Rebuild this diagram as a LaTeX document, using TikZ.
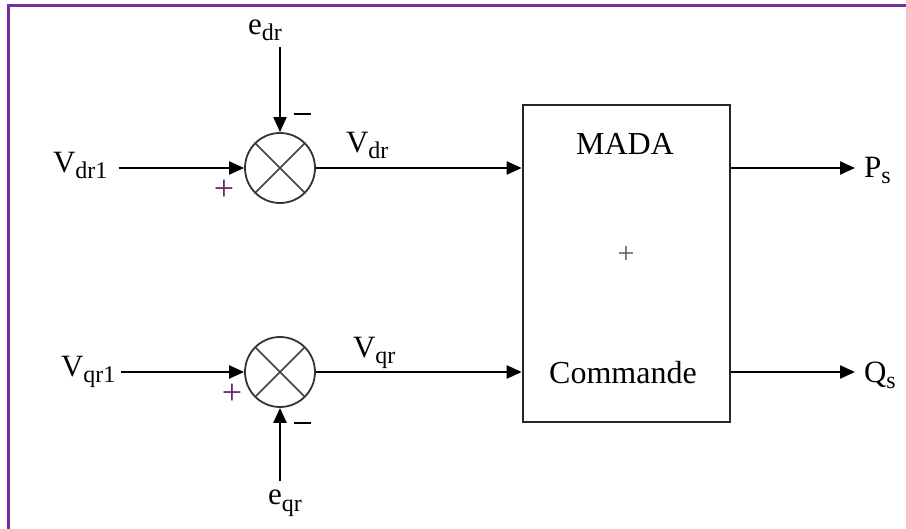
\documentclass[tikz,border=0pt]{standalone}
\usepackage{fontspec}
\setmainfont{Liberation Serif}
\usetikzlibrary{arrows.meta}
\definecolor{framec}{HTML}{7030A0}
\definecolor{plusc}{HTML}{6A2A66}
\newcommand{\sbs}[1]{\raisebox{-6pt}{\fontsize{24}{24}\selectfont #1}}
\begin{document}
\begin{tikzpicture}[x=1pt,y=-1pt,
  font=\fontsize{31}{36}\selectfont,
  line width=2.2pt,
  arr/.style={-{Triangle[length=15pt,width=13pt]}},
  lbl/.style={inner sep=0pt, anchor=base west},
  sumj/.style={circle, draw=black!80, minimum size=70pt, inner sep=0pt, line width=1.8pt},
  sgn/.style={inner sep=0pt},
  blockbox/.style={draw=black!85, minimum width=207pt, minimum height=317pt, inner sep=0pt, line width=2.6pt}]
\useasboundingbox (0,0) rectangle (906,529);
\fill[white] (0,0) rectangle (906,529);
\draw[framec, line width=3pt] (8,529) -- (8,6) -- (906,6);

% summing junctions
\node[sumj] (s1) at (280,168) {};
\node[sumj] (s2) at (280,372) {};
\draw[black!75, line width=1.5pt] (s1.north west) -- (s1.south east) (s1.north east) -- (s1.south west);
\draw[black!75, line width=1.5pt] (s2.north west) -- (s2.south east) (s2.north east) -- (s2.south west);

% block
\node[blockbox] (box) at (626.5,263.5) {};
\node[inner sep=0pt, anchor=base, font=\fontsize{32}{36}\selectfont] (mada) at (625,155) {MADA};
\node[inner sep=0pt, font=\fontsize{30}{30}\selectfont, text=black!65] (plusbox) at (626,255) {+};
\node[inner sep=0pt, anchor=base, font=\fontsize{32}{36}\selectfont] (cmd) at (623,384) {Commande};

% labels
\node[lbl] (vdr1) at (52,173) {V\sbs{dr1}};
\node[lbl] (vqr1) at (60,377) {V\sbs{qr1}};
\node[lbl] (edr) at (247,35) {e\sbs{dr}};
\node[lbl] (eqr) at (267,505) {e\sbs{qr}};
\node[lbl] (vdr) at (345,153) {V\sbs{dr}};
\node[lbl] (vqr) at (352,358) {V\sbs{qr}};
\node[lbl] (ps) at (863,178) {P\sbs{s}};
\node[lbl] (qs) at (863,383) {Q\sbs{s}};

% signs
\node[sgn] (m1) at (302,114) {\rule{17pt}{2.2pt}};
\node[sgn] (m2) at (302,423) {\rule{17pt}{2.2pt}};
\node[sgn, text=plusc, font=\fontsize{36}{36}\selectfont] (p1) at (224,190) {+};
\node[sgn, text=plusc, font=\fontsize{36}{36}\selectfont] (p2) at (232,394) {+};

% connectors
\draw[arr] ([xshift=10pt]vdr1.east |- s1) -- (s1.west);
\draw[arr] ([xshift=4pt]vqr1.east |- s2) -- (s2.west);
\draw[arr] (edr.south -| s1.north) ++(0,5) -- (s1.north);
\draw[arr] (eqr.north -| s2.south) ++(0,-8) -- (s2.south);
\draw[arr] (s1.east) -- (s1 -| box.west);
\draw[arr] (s2.east) -- (s2 -| box.west);
\draw[arr] (box.east |- s1) -- ([xshift=-8pt]s1 -| ps.west);
\draw[arr] (box.east |- s2) -- ([xshift=-8pt]s2 -| qs.west);
\end{tikzpicture}
\end{document}
